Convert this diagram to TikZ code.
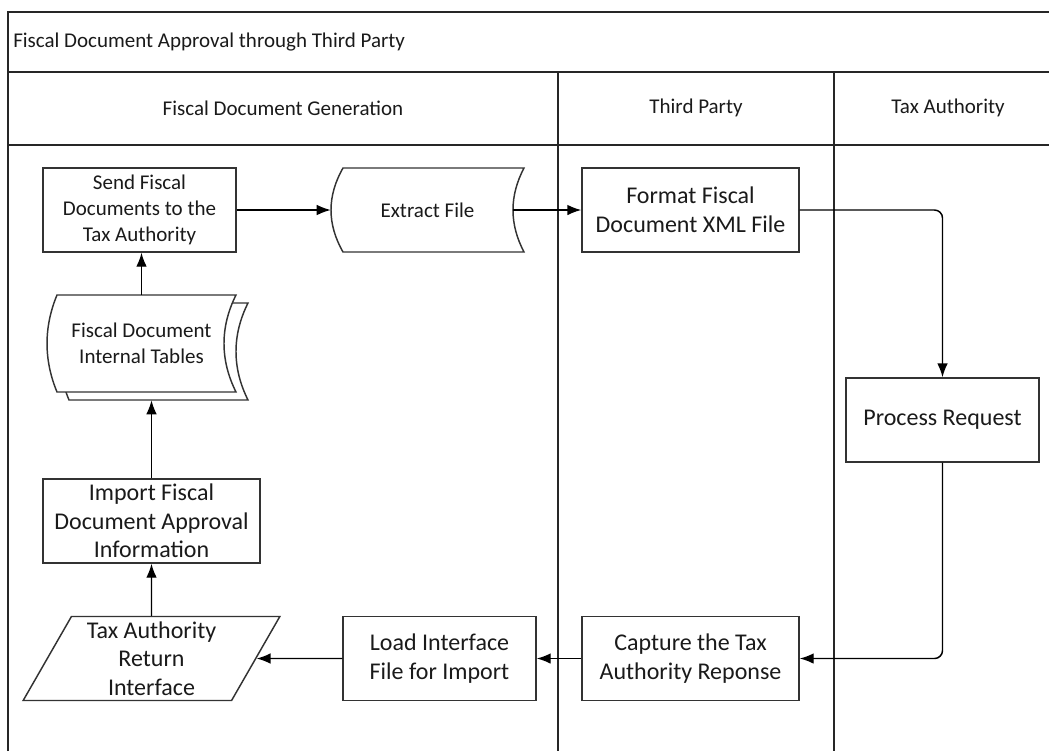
\documentclass[tikz,border=0pt]{standalone}
\usepackage{fontspec}
\setmainfont{Carlito}
\usetikzlibrary{arrows.meta,shapes.geometric}
\definecolor{lane}{HTML}{262626}
\definecolor{edge}{HTML}{333333}
\definecolor{ink}{HTML}{1A1A1A}
\newcommand{\smalltxt}{\fontsize{15.75}{19.3}\selectfont}
\newcommand{\bigtxt}{\fontsize{18}{21.5}\selectfont}
\tikzset{lane/.style={draw=lane,line width=1.5pt}}
\tikzset{task/.style={text=ink,draw=edge,fill=white,line width=1.1pt,rectangle,align=center,minimum height=63pt,inner sep=1pt}}
\tikzset{smalltask/.style={task,font=\smalltxt,minimum width=144.75pt}}
\tikzset{bigtask/.style={task,font=\bigtxt,minimum width=162.75pt}}
\tikzset{label/.style={text=ink,font=\smalltxt,align=center,inner sep=0pt}}
\tikzset{shapeline/.style={draw=edge,fill=white,line width=1.1pt}}
\tikzset{arr/.style={black,line width=1.1pt,-{Latex[length=10.5pt,width=8pt]}}}

\begin{document}
\begin{tikzpicture}[x=0.75pt,y=-0.75pt]
            \useasboundingbox (0,0) rectangle (1049,751);
            % lanes
            \draw[lane] (8,751) -- (8,12) -- (1049,12);
            \draw[lane] (8,72) -- (1049,72);
            \draw[lane] (8,145) -- (1049,145);
            \draw[lane] (558,72) -- (558,751);
            \draw[lane] (834,72) -- (834,751);
            \node[label,anchor=west] (title) at (13,42) {Fiscal Document Approval through Third Party};
            \node[label] (generation) at (283,108) {Fiscal Document Generation};
            \node[label] (thirdparty) at (696,108) {Third Party};
            \node[label] (authority) at (948,108) {Tax Authority};

            % shapes
            \draw[shapeline] (69,303) -- (248,303) .. controls (232,335) and (232,368) .. (248,400) -- (69,400) .. controls (55.7,368) and (55.7,335) .. cycle;
            \draw[shapeline] (57,295) -- (236,295) .. controls (220,327) and (220,360) .. (236,392) -- (57,392) .. controls (43.7,360) and (43.7,327) .. cycle;
            \draw[shapeline] (343,168) -- (524,168) .. controls (509.3,196) and (509.3,224) .. (524,252) -- (343,252) .. controls (327,224) and (327,196) .. cycle;

            \node[smalltask] (send) at (139.5,210) {Send Fiscal\\Documents to the\\Tax Authority};
            \node[label,minimum width=141.75pt,minimum height=72.75pt] (tables) at (141.5,343.5) {Fiscal Document\\Internal Tables};
            \node[label,minimum width=144.75pt,minimum height=63pt] (extract) at (427.5,210) {Extract File};
            \node[bigtask] (format) at (690.5,210) {Format Fiscal\\Document XML File};
            \node[task,font=\bigtxt,minimum width=144.75pt] (process) at (942.5,420) {Process Request};
            \node[bigtask] (capture) at (690.5,658.5) {Capture the Tax\\Authority Reponse};
            \node[task,font=\bigtxt,minimum width=144.75pt] (load) at (439.5,658.5) {Load Interface\\File for Import};
            \node[task,font=\bigtxt,trapezium,trapezium left angle=62.6,trapezium right angle=117.4,trapezium stretches=true,minimum width=192.75pt] (taxreturn) at (151.5,658.5) {Tax Authority\\Return\\Interface};
            \node[bigtask] (import) at (151.5,521) {Import Fiscal\\Document Approval\\Information};

            % flow
            \draw[arr] (send) -- (extract);
            \draw[arr] ([xshift=-8.25pt]extract.east) -- (format);
            \draw[arr,rounded corners=6pt] (format.east) -| (process.north);
            \draw[arr,rounded corners=6pt] (process.south) |- (capture.east);
            \draw[arr] (capture) -- (load);
            \draw[arr] (load) -- (taxreturn);
            \draw[arr] (taxreturn) -- (import);
            \draw[arr] (import.north) -- ([yshift=-6pt]import.north |- tables.south);
            \draw[arr] (tables.north) -- (tables.north |- send.south);
\end{tikzpicture}
\end{document}
